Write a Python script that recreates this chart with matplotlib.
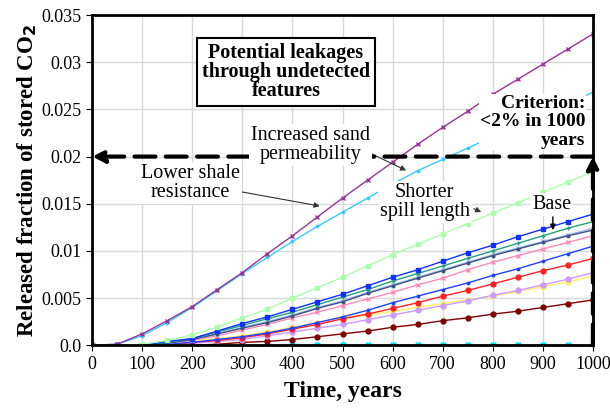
import matplotlib
matplotlib.use('Agg')
import matplotlib.pyplot as plt

plt.rcParams['font.family'] = ['Liberation Serif', 'DejaVu Serif']

years = [0, 50, 100, 150, 200, 250, 300, 350, 400, 450, 500,
         550, 600, 650, 700, 750, 800, 850, 900, 950, 1000]

lower_shale = [0, 0.0001, 0.0012, 0.0026, 0.0041, 0.0059, 0.0077, 0.0097, 0.0116, 0.0136, 0.0156,
               0.0175, 0.0194, 0.0213, 0.0231, 0.0248, 0.0266, 0.0282, 0.0298, 0.0314, 0.0330]
sand_perm = [0, 0.0001, 0.0010, 0.0024, 0.0040, 0.0058, 0.0076, 0.0093, 0.0110, 0.0126, 0.0141,
             0.0156, 0.0171, 0.0185, 0.0197, 0.0209, 0.0221, 0.0233, 0.0245, 0.0257, 0.0268]
spill_length = [0, 0, 0.0001, 0.0005, 0.0011, 0.0019, 0.0029, 0.0038, 0.0050, 0.0061, 0.0072,
                0.0084, 0.0096, 0.0107, 0.0118, 0.0129, 0.0140, 0.0151, 0.0162, 0.0173, 0.0184]
blue_sq = [0, 0, 0, 0.0004, 0.0007, 0.0015, 0.0023, 0.0030, 0.0038, 0.0046, 0.0054,
           0.0063, 0.0072, 0.0080, 0.0089, 0.0098, 0.0106, 0.0115, 0.0123, 0.0131, 0.0139]
teal = [0, 0, 0, 0.0003, 0.0007, 0.0014, 0.0021, 0.0028, 0.0035, 0.0043, 0.0051,
        0.0059, 0.0068, 0.0076, 0.0084, 0.0092, 0.0100, 0.0108, 0.0116, 0.0124, 0.0131]
base = [0, 0, 0, 0.0002, 0.0006, 0.0012, 0.0018, 0.0024, 0.0031, 0.0039, 0.0046,
        0.0055, 0.0063, 0.0071, 0.0079, 0.0087, 0.0095, 0.0102, 0.0109, 0.0116, 0.0122]
light_blue = [0, 0, 0, 0.0002, 0.0006, 0.0012, 0.0019, 0.0025, 0.0032, 0.0040, 0.0047,
              0.0056, 0.0064, 0.0072, 0.0080, 0.0088, 0.0096, 0.0103, 0.0110, 0.0117, 0.0124]
pink = [0, 0, 0, 0.0002, 0.0005, 0.0010, 0.0016, 0.0022, 0.0029, 0.0035, 0.0042,
        0.0049, 0.0056, 0.0064, 0.0071, 0.0080, 0.0088, 0.0095, 0.0102, 0.0109, 0.0116]
thin_blue = [0, 0, 0, 0.0001, 0.0003, 0.0006, 0.0009, 0.0013, 0.0018, 0.0024, 0.0030,
             0.0037, 0.0045, 0.0052, 0.0059, 0.0066, 0.0074, 0.0081, 0.0089, 0.0097, 0.0105]
red = [0, 0, 0, 0.0001, 0.0003, 0.0005, 0.0008, 0.0012, 0.0017, 0.0022, 0.0028,
       0.0033, 0.0039, 0.0045, 0.0052, 0.0058, 0.0065, 0.0072, 0.0079, 0.0085, 0.0092]
lavender = [0, 0, 0, 0, 0.0002, 0.0004, 0.0006, 0.0010, 0.0014, 0.0018, 0.0022,
            0.0027, 0.0032, 0.0037, 0.0042, 0.0047, 0.0053, 0.0058, 0.0064, 0.0070, 0.0077]
yellow = [0, 0, 0, 0.0001, 0.0004, 0.0007, 0.0010, 0.0014, 0.0019, 0.0024, 0.0029,
          0.0032, 0.0036, 0.0040, 0.0044, 0.0048, 0.0052, 0.0057, 0.0062, 0.0067, 0.0073]
dark_red = [0, 0, 0, 0, 0, 0.0001, 0.0003, 0.0004, 0.0006, 0.0009, 0.0012,
            0.0015, 0.0019, 0.0022, 0.0026, 0.0029, 0.0033, 0.0036, 0.0040, 0.0044, 0.0048]
flat = [0] * len(years)

series = [
    (flat, '#00e5ff', 'v'),
    (dark_red, '#800000', 'o'),
    (yellow, '#ffee66', 'o'),
    (lavender, '#cc99ff', 'o'),
    (red, '#ff2020', 'o'),
    (thin_blue, '#2040ff', '.'),
    (pink, '#ff88bb', 'x'),
    (light_blue, '#99bbee', 'x'),
    (base, '#405080', '.'),
    (teal, '#20a080', '+'),
    (blue_sq, '#1030ff', 's'),
    (spill_length, '#aaffaa', 's'),
    (sand_perm, '#33ccff', '.'),
    (lower_shale, '#993399', 'x'),
]

fig = plt.figure(figsize=(6.1, 4.09), dpi=100)
ax = fig.add_axes([0.151, 0.156, 0.821, 0.807])

for vals, col, mk in series:
    ax.plot(years, vals, color=col, marker=mk, markersize=3.5, linewidth=1.0)

ax.set_xlim(0, 1000)
ax.set_ylim(0, 0.035)
ax.set_xticks(range(0, 1001, 100))
ax.set_yticks([0, 0.005, 0.01, 0.015, 0.02, 0.025, 0.03, 0.035])
ax.set_yticklabels(['0.0', '0.005', '0.01', '0.015', '0.02', '0.025', '0.03', '0.035'])
ax.tick_params(labelsize=13, length=4)
ax.grid(True, color='#d8d8d8', linewidth=1.0)
ax.set_axisbelow(True)
for s in ax.spines.values():
    s.set_linewidth(2)

ax.set_xlabel('Time, years', fontsize=17, fontweight='bold', labelpad=6)
ax.set_ylabel('Released fraction of stored CO$_\\mathbf{2}$', fontsize=16.5, fontweight='bold',
              labelpad=2)

ax.text(985, 0.0237, 'Criterion:\n<2% in 1000\nyears', ha='right', va='center',
        fontsize=14, fontweight='bold', linespacing=1.12,
        bbox=dict(boxstyle='square,pad=0.05', fc='white', ec='none'))

# criterion lines
dash = (0, (5, 2.5))
ax.annotate('', xy=(0, 0.02), xytext=(1000, 0.02),
            arrowprops=dict(arrowstyle='-|>', linestyle=dash, lw=3, color='black',
                            mutation_scale=18, shrinkA=0, shrinkB=0), zorder=5)
ax.annotate('', xy=(1000, 0.02), xytext=(1000, 0),
            arrowprops=dict(arrowstyle='-|>', linestyle=dash, lw=3, color='black',
                            mutation_scale=18, shrinkA=0, shrinkB=0),
            annotation_clip=False, zorder=5)

ax.text(387, 0.0290, 'Potential leakages\nthrough undetected\nfeatures', ha='center', va='center',
        fontsize=14.5, fontweight='bold', linespacing=0.92,
        bbox=dict(boxstyle='square,pad=0.25', fc='white', ec='black', lw=1.5))

txt = dict(fontsize=14.5, ha='center', va='center', linespacing=1.0, zorder=6,
           bbox=dict(boxstyle='square,pad=0.1', fc='white', ec='none'))
ax.text(437, 0.0212, 'Increased sand\npermeability', **txt)
ax.annotate('', xy=(632, 0.0184), xytext=(550, 0.0205),
            arrowprops=dict(arrowstyle='-|>', color='#333333', lw=0.8, mutation_scale=8))
ax.text(196, 0.0172, 'Lower shale\nresistance', **txt)
ax.annotate('', xy=(460, 0.0147), xytext=(294, 0.0163),
            arrowprops=dict(arrowstyle='-|>', color='#333333', lw=0.8, mutation_scale=8))
ax.text(664, 0.0152, 'Shorter\nspill length', **txt)
ax.annotate('', xy=(782, 0.0140), xytext=(757, 0.0146),
            arrowprops=dict(arrowstyle='-|>', color='#333333', lw=0.8, mutation_scale=8))
ax.text(918, 0.0149, 'Base', **txt)
ax.annotate('', xy=(920, 0.0119), xytext=(920, 0.0139),
            arrowprops=dict(arrowstyle='-|>', color='black', lw=1.0, mutation_scale=8))

fig.savefig('out.png', dpi=100)
